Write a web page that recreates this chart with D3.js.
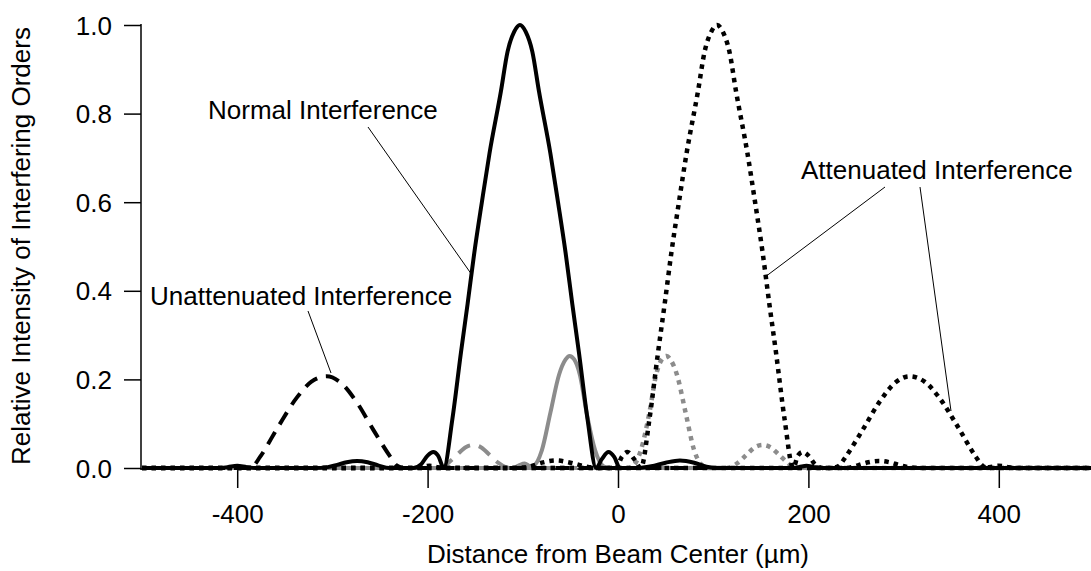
<!DOCTYPE html>
<html><head><meta charset="utf-8">
<script src="https://cdn.jsdelivr.net/npm/d3@7"></script>
<style>html,body{margin:0;padding:0;background:#fff}svg{display:block}text{font-family:"Liberation Sans",Arial,sans-serif;fill:#000}</style>
</head><body>
<svg id="c" width="1091" height="571"></svg>
<script>
// ---- data ----
const xTicks = [-400, -200, 0, 200, 400];
const yTicks = [0.0, 0.2, 0.4, 0.6, 0.8, 1.0];
const xTitle = "Distance from Beam Center (µm)";
const yTitle = "Relative Intensity of Interfering Orders";

// Normal interference (solid black)
const normalX = [-500,-420,-410,-400,-390,-380,-320,-305,-295,-285,-274,-263,-252,-240,-215,-207,-200,-194,-189,-183,-174,-165,-158,-151,-143,-135,-123,-116,-109,-103,-97,-90,-83,-71,-63,-55,-48,-41,-32,-23,-17,-10,-4,2,20,35,50,65,80,93,105,180,190,198,206,215,500];
const normalY = [0,0,0.002,0.005,0.002,0,0,0.002,0.007,0.013,0.016,0.013,0.006,0,0,0.008,0.028,0.036,0.028,0,0.11,0.26,0.37,0.485,0.6,0.71,0.85,0.94,0.985,1.0,0.985,0.94,0.85,0.71,0.6,0.485,0.37,0.26,0.11,0,0.02,0.036,0.025,0,0,0.004,0.012,0.017,0.012,0.003,0,0,0.002,0.005,0.002,0,0];

// Attenuated interference (dotted black, main order)
const attenX = [-500,-215,-206,-198,-190,-180,-105,-93,-80,-65,-50,-35,-20,-2,4,10,17,24,33,42,49,56,64,72,84,91,98,104,110,117,124,136,144,152,159,166,175,184,189,194,200,207,215,240,252,263,274,285,295,305,320,380,390,400,410,420,500];
const attenY = [0,0,0.002,0.005,0.002,0,0,0.003,0.012,0.017,0.012,0.004,0,0,0.025,0.036,0.02,0,0.11,0.26,0.37,0.485,0.6,0.71,0.85,0.94,0.985,1.0,0.985,0.94,0.85,0.71,0.6,0.485,0.37,0.26,0.11,0,0.028,0.036,0.028,0.008,0,0,0.006,0.013,0.016,0.013,0.007,0.002,0,0,0.002,0.005,0.002,0,0];

// Unattenuated interference (dashed black)
const unattX = [-500,-390,-383,-376,-357,-337,-322,-306,-292,-274,-257,-239,-232,-225,500];
const unattY = [0,0,0.005,0.025,0.093,0.16,0.195,0.207,0.194,0.147,0.086,0.025,0.005,0,0];

// Attenuated interference, second order (dotted black)
const atten2X = [-500,225,232,239,257,274,292,306,322,337,357,376,383,390,500];
const atten2Y = [0,0,0.005,0.025,0.086,0.147,0.194,0.207,0.195,0.16,0.093,0.025,0.005,0,0];

// grey components
const greySolidX = [-500,-110,-104,-98,-92,-89,-80,-71,-62,-55,-51,-46,-40,-33,-24,-16,-10,500];
const greySolidY = [0,0,0.006,0.01,0.004,0.005,0.04,0.125,0.21,0.245,0.253,0.245,0.21,0.125,0.04,0.005,0,0];
const greyDottedX = [-500,10,16,24,33,40,46,51,55,62,71,80,89,95,112,118,126,135,144,152,160,169,178,184,190,500];
const greyDottedY = [0,0,0.005,0.04,0.125,0.21,0.245,0.253,0.245,0.21,0.125,0.04,0.005,0,0,0.002,0.012,0.03,0.047,0.052,0.047,0.03,0.012,0.002,0,0];
const greyDashedX = [-500,-190,-184,-178,-169,-160,-152,-144,-135,-126,-118,-112,500];
const greyDashedY = [0,0,0.002,0.012,0.03,0.047,0.052,0.047,0.03,0.012,0.002,0,0];

const labels = [
  {text:"Normal Interference", x:208, y:119},
  {text:"Unattenuated Interference", x:150, y:305},
  {text:"Attenuated Interference", x:801, y:179}
];
const leaders = [
  [[368,127],[472,275]],
  [[308,311],[331,373]],
  [[885,187],[765,277]],
  [[920,187],[951,411]]
];

// ---- drawing ----
const svg = d3.select("#c");
const x = d3.scaleLinear().domain([-500,500]).range([142,1094]);
const y = d3.scaleLinear().domain([0,1]).range([468,25]);
const FS = 26;
const FF = "Liberation Sans, Arial, sans-serif";

svg.append("clipPath").attr("id","clip").append("rect").attr("x",142).attr("y",0).attr("width",960).attr("height",475);

// y axis
const ya = svg.append("g").attr("transform","translate(141,0)")
  .call(d3.axisLeft(y).tickValues(yTicks).tickFormat(d3.format(".1f")).tickSize(17).tickPadding(12));
ya.select(".domain").attr("d","M0,24V470").attr("stroke","#000").attr("stroke-width",1.5);
ya.selectAll(".tick line").attr("stroke-width",1.5);
ya.selectAll("text").style("font-size",FS+"px").style("font-family",FF).attr("dy","0.35em");

// x axis
const xa = svg.append("g").attr("transform","translate(0,469)")
  .call(d3.axisBottom(x).tickValues(xTicks).tickFormat(d=>String(d)).tickSize(19).tickPadding(14));
xa.select(".domain").attr("d","M141,0H1091").attr("stroke","#000").attr("stroke-width",1.5);
xa.selectAll(".tick line").attr("stroke-width",1.5);
xa.selectAll("text").style("font-size",FS+"px").style("font-family",FF).attr("y",54).attr("dy",null);

// titles
svg.append("text").attr("x",618).attr("y",563).attr("text-anchor","middle").style("font-size",FS+"px").text(xTitle);
svg.append("text").attr("transform","translate(30,246) rotate(-90)").attr("text-anchor","middle").style("font-size",FS+"px").text(yTitle);

const line = d3.line().x(d=>x(d[0])).y(d=>y(d[1])).curve(d3.curveMonotoneX);
const g = svg.append("g").attr("clip-path","url(#clip)");
const series = [
  {xs:greySolidX, ys:greySolidY, color:"#8c8c8c", dash:null, w:4},
  {xs:greyDashedX, ys:greyDashedY, color:"#8c8c8c", dash:"14,9", w:4},
  {xs:greyDottedX, ys:greyDottedY, color:"#8c8c8c", dash:"4.5,5", w:4.5},
  {xs:unattX, ys:unattY, color:"#000", dash:"14,9", w:4},
  {xs:atten2X, ys:atten2Y, color:"#000", dash:"4.5,5", w:4.5},
  {xs:attenX, ys:attenY, color:"#000", dash:"4.5,5", w:4.5},
  {xs:normalX, ys:normalY, color:"#000", dash:null, w:4}
];
series.forEach(s=>{
  const pts = s.xs.map((v,i)=>[v,s.ys[i]]);
  g.append("path").attr("d",line(pts)).attr("fill","none").attr("stroke",s.color)
   .attr("stroke-width",s.w).attr("stroke-dasharray",s.dash).attr("stroke-linejoin","round");
});

// annotations
leaders.forEach(l=>svg.append("line").attr("x1",l[0][0]).attr("y1",l[0][1]).attr("x2",l[1][0]).attr("y2",l[1][1]).attr("stroke","#000").attr("stroke-width",1));
labels.forEach(l=>svg.append("text").attr("x",l.x).attr("y",l.y).style("font-size",FS+"px").text(l.text));
</script>
</body></html>
